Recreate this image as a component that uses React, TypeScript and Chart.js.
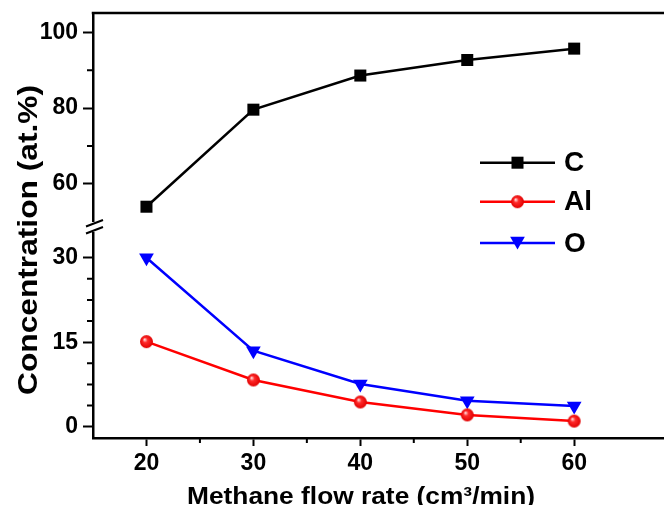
import { useEffect, useRef } from "react";
import { Chart, registerables } from "chart.js";
Chart.register(...registerables);

const flowRates = [20, 30, 40, 50, 60];
const carbon = [54.0, 79.6, 88.6, 92.7, 95.7];
const aluminium = [15.1, 8.3, 4.4, 2.1, 1.0];
const oxygen = [30.0, 13.5, 7.6, 4.6, 3.7];
const seriesNames = ["C", "Al", "O"];
const xTicks = [20, 30, 40, 50, 60];
const upperTicks = [60, 80, 100];
const lowerTicks = [0, 15, 30];
const xMinorTicks = [25, 35, 45, 55];
const upperMinorTicks = [70, 90];
const lowerMinorTicks = [3.75, 7.5, 11.25, 18.75, 22.5, 26.25];
const xTitle = "Methane flow rate (cm\u00B3/min)";
const yTitle = "Concentration (at.%)";

const FONT = "'Liberation Sans', Arial, sans-serif";

function makeSphere(r: number): HTMLCanvasElement {
  const size = Math.ceil(r * 2) + 2;
  const c = document.createElement("canvas");
  c.width = size;
  c.height = size;
  const g = c.getContext("2d")!;
  const cx = size / 2;
  const cy = size / 2;
  const grad = g.createRadialGradient(cx - r * 0.3, cy - r * 0.35, r * 0.05, cx, cy, r);
  grad.addColorStop(0, "#ffe0e0");
  grad.addColorStop(0.35, "#ff2a2a");
  grad.addColorStop(1, "#e00000");
  g.fillStyle = grad;
  g.beginPath();
  g.arc(cx, cy, r, 0, Math.PI * 2);
  g.fill();
  return c;
}

export default function App() {
  const ref = useRef<HTMLCanvasElement>(null);
  useEffect(() => {
    document.body.style.margin = "0";
    const canvas = ref.current!;
    const sphere = makeSphere(6.5);

    const tickFont = { family: FONT, size: 23, weight: "bold" as const };

    const decor = {
      id: "decor",
      afterDraw(chart: any) {
        const ctx = chart.ctx as CanvasRenderingContext2D;
        const area = chart.chartArea;
        const sx = chart.scales.x;
        const yl = chart.scales.yLower;
        const yu = chart.scales.yUpper;
        ctx.save();
        // top frame line
        ctx.strokeStyle = "#000";
        ctx.lineWidth = 2.5;
        ctx.beginPath();
        ctx.moveTo(area.left - 1.25, area.top);
        ctx.lineTo(chart.width, area.top);
        ctx.stroke();
        // minor ticks
        ctx.lineWidth = 2;
        ctx.beginPath();
        for (const v of xMinorTicks) {
          const px = sx.getPixelForValue(v);
          ctx.moveTo(px, area.bottom);
          ctx.lineTo(px, area.bottom + 5);
        }
        for (const v of upperMinorTicks) {
          const py = yu.getPixelForValue(v);
          ctx.moveTo(area.left, py);
          ctx.lineTo(area.left - 6, py);
        }
        for (const v of lowerMinorTicks) {
          const py = yl.getPixelForValue(v);
          ctx.moveTo(area.left, py);
          ctx.lineTo(area.left - 6, py);
        }
        ctx.stroke();
        // axis break
        const by = yu.bottom;
        ctx.fillStyle = "#fff";
        ctx.fillRect(area.left - 3, by - 5, 6, 10);
        ctx.lineWidth = 2;
        ctx.beginPath();
        ctx.moveTo(area.left - 7, by - 0.5);
        ctx.lineTo(area.left + 10, by - 7);
        ctx.moveTo(area.left - 7, by + 6.5);
        ctx.lineTo(area.left + 10, by);
        ctx.stroke();

        // legend
        const ds = chart.data.datasets;
        const legendY = [162.7, 201.7, 243];
        const lx0 = 480;
        const lx1 = 555;
        for (let i = 0; i < ds.length; i++) {
          const d = ds[i];
          const y = legendY[i];
          ctx.strokeStyle = d.borderColor;
          ctx.lineWidth = 2.5;
          ctx.beginPath();
          ctx.moveTo(lx0, y);
          ctx.lineTo(lx1, y);
          ctx.stroke();
          const mx = (lx0 + lx1) / 2;
          ctx.fillStyle = d.borderColor;
          if (i === 0) {
            ctx.fillRect(mx - 6, y - 6, 12, 12);
          } else if (i === 1) {
            ctx.drawImage(sphere, mx - sphere.width / 2, y - sphere.height / 2);
          } else {
            const r = 8.5;
            ctx.beginPath();
            ctx.moveTo(mx, y + r - 2);
            ctx.lineTo(mx - r * 0.866, y - r / 2 - 2);
            ctx.lineTo(mx + r * 0.866, y - r / 2 - 2);
            ctx.closePath();
            ctx.fill();
          }
          ctx.fillStyle = "#000";
          ctx.font = `bold 28px ${FONT}`;
          ctx.textAlign = "left";
          ctx.textBaseline = "middle";
          ctx.fillText(seriesNames[i], 564, y + 1);
        }

        // x title
        ctx.fillStyle = "#000";
        ctx.font = `bold 24px ${FONT}`;
        ctx.textAlign = "center";
        ctx.textBaseline = "alphabetic";
        let w = ctx.measureText(xTitle).width;
        ctx.save();
        ctx.translate(361, 504);
        ctx.scale(348 / w, 1);
        ctx.fillText(xTitle, 0, 0);
        ctx.restore();

        // y title
        ctx.font = `bold 28px ${FONT}`;
        w = ctx.measureText(yTitle).width;
        ctx.save();
        ctx.translate(37, 240);
        ctx.rotate(-Math.PI / 2);
        ctx.scale(310 / w, 1);
        ctx.fillText(yTitle, 0, 0);
        ctx.restore();
        ctx.restore();
      },
    };

    const yCommon = (ticks: number[]) => ({
      type: "linear" as const,
      position: "left" as const,
      stack: "y",
      afterBuildTicks: (s: any) => {
        s.ticks = ticks.map((v) => ({ value: v }));
      },
      afterFit: (s: any) => {
        s.width = 93;
        s.paddingTop = 0;
        s.paddingBottom = 0;
      },
      grid: { drawOnChartArea: false, drawTicks: true, tickLength: 10, tickWidth: 2, tickColor: "#000" },
      border: { display: true, color: "#000", width: 2.5 },
      ticks: { color: "#000", font: tickFont, padding: 5, autoSkip: false },
    });

    const chart = new Chart(canvas, {
      type: "line",
      data: {
        datasets: [
          {
            label: seriesNames[0],
            data: flowRates.map((x, i) => ({ x, y: carbon[i] })),
            yAxisID: "yUpper",
            borderColor: "#000000",
            backgroundColor: "#000000",
            borderWidth: 2.5,
            pointStyle: "rect",
            pointRadius: 8.5,
            pointBorderWidth: 0,
          },
          {
            label: seriesNames[1],
            data: flowRates.map((x, i) => ({ x, y: aluminium[i] })),
            yAxisID: "yLower",
            borderColor: "#ff0000",
            backgroundColor: "#ff0000",
            borderWidth: 2.5,
            pointStyle: sphere,
            pointRadius: 6.5,
            pointBorderWidth: 0,
          },
          {
            label: seriesNames[2],
            data: flowRates.map((x, i) => ({ x, y: oxygen[i] })),
            yAxisID: "yLower",
            borderColor: "#0000ff",
            backgroundColor: "#0000ff",
            borderWidth: 2.5,
            pointStyle: "triangle",
            pointRotation: 180,
            pointRadius: 8.5,
            pointBorderWidth: 0,
          },
        ],
      },
      options: {
        responsive: false,
        animation: false,
        events: [],
        layout: { autoPadding: false, padding: { top: 13, left: 0, right: 0, bottom: 0 } },
        plugins: { legend: { display: false }, tooltip: { enabled: false } },
        scales: {
          x: {
            type: "linear",
            min: 15,
            max: 68.4,
            afterBuildTicks: (s: any) => {
              s.ticks = xTicks.map((v) => ({ value: v }));
            },
            afterFit: (s: any) => {
              s.height = 67;
              s.paddingLeft = 0;
              s.paddingRight = 0;
            },
            grid: { drawOnChartArea: false, drawTicks: true, tickLength: 8, tickWidth: 2, tickColor: "#000" },
            border: { display: true, color: "#000", width: 2.5 },
            ticks: { color: "#000", font: tickFont, padding: 4, maxRotation: 0, autoSkip: false },
          },
          yLower: { ...yCommon(lowerTicks), min: -2, max: 35.45, stackWeight: 211 },
          yUpper: { ...yCommon(upperTicks), min: 48.65, max: 105.1, stackWeight: 214 },
        } as any,
      },
      plugins: [decor],
    });
    return () => chart.destroy();
  }, []);
  return (
    <div style={{ width: 664, height: 505, overflow: "hidden" }}>
      <canvas ref={ref} width={664} height={505} style={{ display: "block" }} />
    </div>
  );
}
